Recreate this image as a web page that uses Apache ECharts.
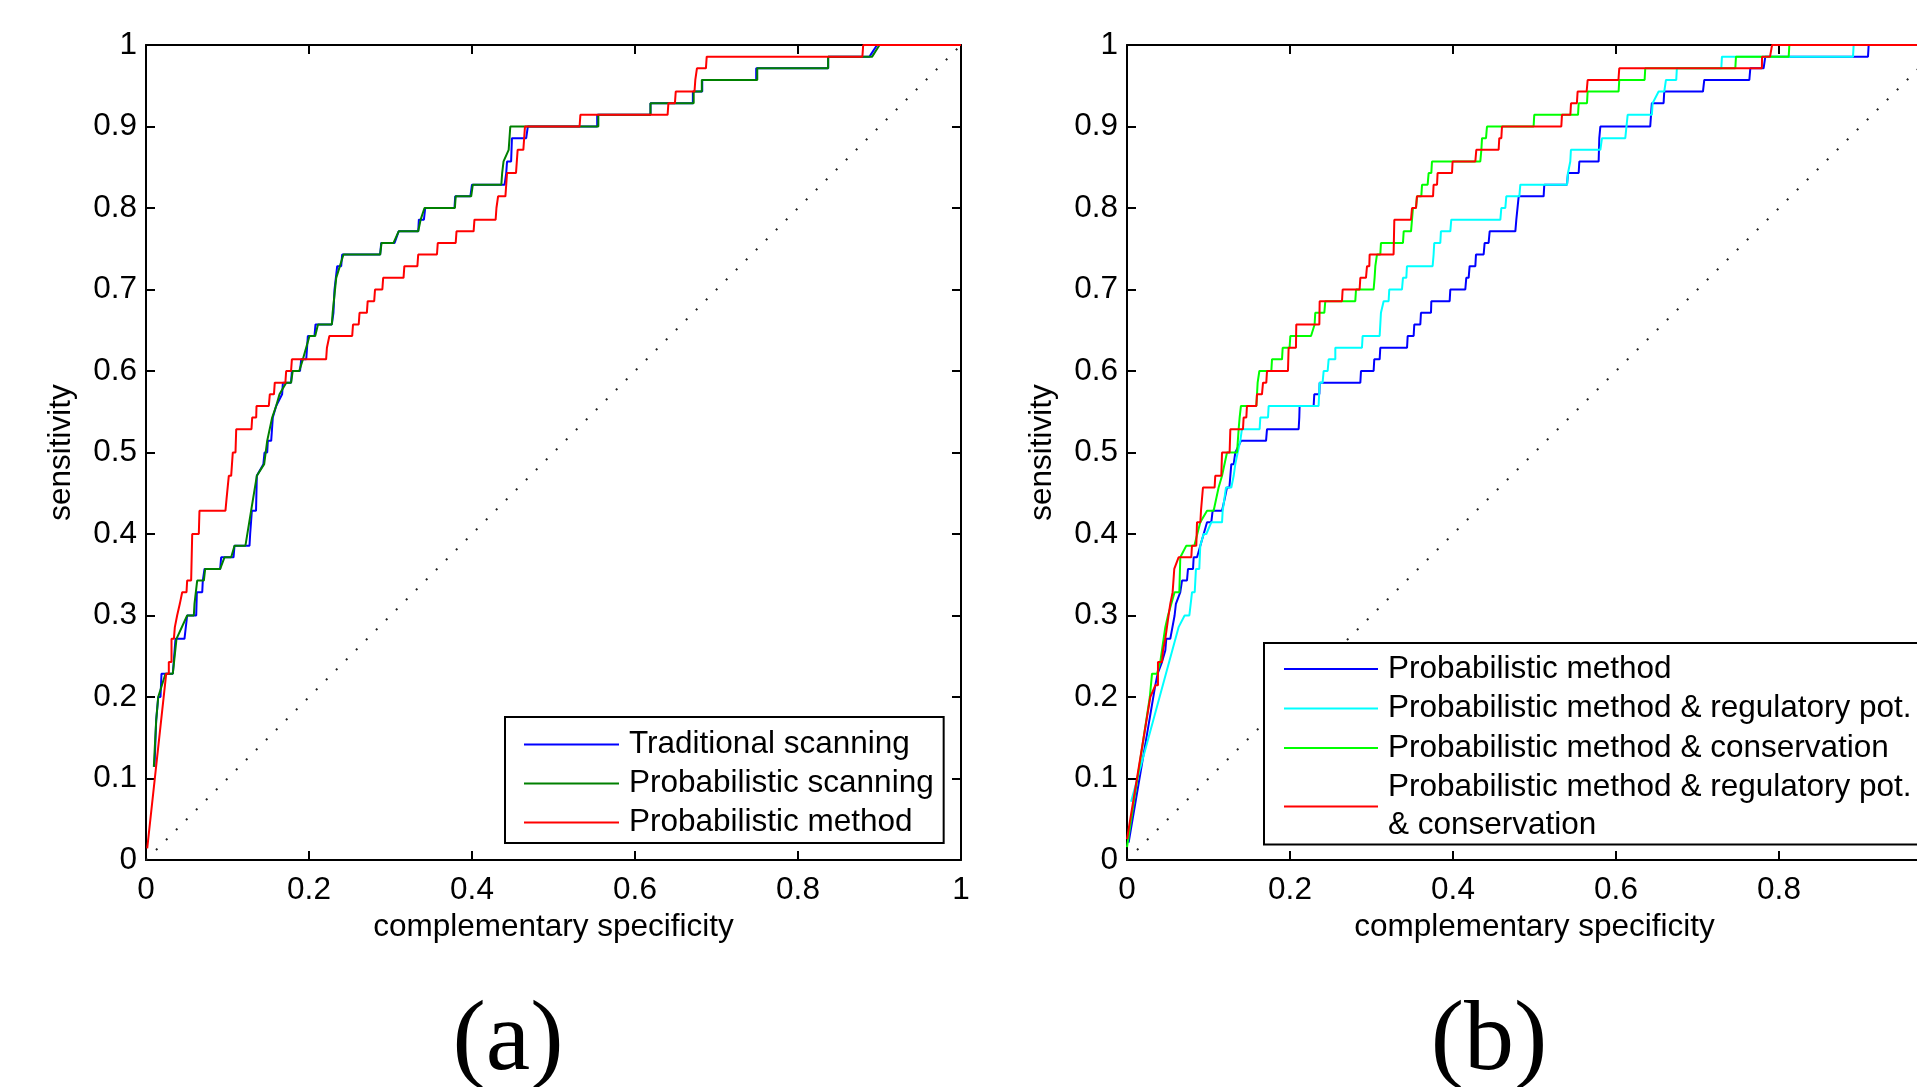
<!DOCTYPE html>
<html>
<head>
<meta charset="utf-8">
<title>ROC curves</title>
<script src="https://cdn.jsdelivr.net/npm/echarts@6/dist/echarts.min.js"></script>
<style>
  html, body { margin: 0; padding: 0; background: #fff; }
  #chart { width: 1917px; height: 1087px; }
</style>
</head>
<body>
<div id="chart"></div>
<script>
// tick values
const xTicks = [0, 0.2, 0.4, 0.6, 0.8, 1];
const yTicks = [0, 0.1, 0.2, 0.3, 0.4, 0.5, 0.6, 0.7, 0.8, 0.9, 1];

// chance line
const diagonal = [[0, 0], [1, 1]];

// (a) [complementary specificity, sensitivity]
const aTraditional = [[0.0104,0.1143],[0.0125,0.1714],[0.015,0.2],[0.0178,0.2],[0.019,0.2286],[0.0329,0.2286],[0.0362,0.2714],[0.0472,0.2714],[0.0505,0.3],[0.0616,0.3],[0.0624,0.3286],[0.069,0.3286],[0.0697,0.3429],[0.0718,0.3571],[0.091,0.3571],[0.0922,0.3714],[0.1074,0.3714],[0.1086,0.3857],[0.127,0.3857],[0.1278,0.4],[0.1299,0.4286],[0.135,0.4286],[0.136,0.4714],[0.144,0.4857],[0.1454,0.5],[0.1487,0.5],[0.1495,0.5143],[0.1536,0.5143],[0.1556,0.5429],[0.1597,0.5571],[0.167,0.5714],[0.168,0.5857],[0.178,0.5857],[0.179,0.6],[0.189,0.6],[0.1904,0.6143],[0.1966,0.6143],[0.1986,0.6429],[0.2067,0.6429],[0.208,0.6571],[0.228,0.6571],[0.23,0.6714],[0.2313,0.7],[0.2346,0.7286],[0.2395,0.7286],[0.2407,0.7429],[0.2873,0.7429],[0.2886,0.7571],[0.305,0.7571],[0.31,0.7714],[0.334,0.7714],[0.3348,0.7857],[0.341,0.7857],[0.3426,0.8],[0.3785,0.8],[0.3794,0.8143],[0.398,0.8143],[0.4,0.8286],[0.44,0.8286],[0.442,0.8429],[0.443,0.8571],[0.448,0.8571],[0.449,0.8857],[0.4665,0.8857],[0.4685,0.9],[0.5536,0.9],[0.5536,0.9143],[0.619,0.9143],[0.619,0.9286],[0.671,0.9286],[0.671,0.9429],[0.6825,0.9429],[0.6825,0.9571],[0.7487,0.9571],[0.7487,0.9714],[0.837,0.9714],[0.837,0.9857],[0.8877,0.9857],[0.897,1],[1,1]];
const aProbScanning = [[0.0096,0.1143],[0.0125,0.1714],[0.015,0.2],[0.0239,0.2286],[0.0329,0.2286],[0.0374,0.2714],[0.0505,0.3],[0.0587,0.3],[0.0595,0.3143],[0.0628,0.3429],[0.071,0.3429],[0.0726,0.3571],[0.091,0.3571],[0.0963,0.3714],[0.1045,0.3714],[0.1086,0.3857],[0.122,0.3857],[0.129,0.4286],[0.136,0.4714],[0.145,0.4857],[0.1487,0.5143],[0.1548,0.5429],[0.1597,0.5571],[0.1638,0.5714],[0.172,0.5857],[0.178,0.5857],[0.18,0.6],[0.188,0.6],[0.1925,0.6143],[0.2006,0.6429],[0.2076,0.6429],[0.211,0.6571],[0.228,0.6571],[0.229,0.6714],[0.2334,0.7143],[0.2423,0.7429],[0.2873,0.7429],[0.289,0.7571],[0.3037,0.7571],[0.31,0.7714],[0.334,0.7714],[0.337,0.7857],[0.3417,0.8],[0.379,0.8],[0.38,0.8143],[0.399,0.8143],[0.401,0.8286],[0.436,0.8286],[0.437,0.8429],[0.4387,0.8571],[0.445,0.8714],[0.447,0.9],[0.555,0.9],[0.555,0.9143],[0.619,0.9143],[0.619,0.9286],[0.672,0.9286],[0.672,0.9429],[0.682,0.9429],[0.682,0.9571],[0.75,0.9571],[0.75,0.9714],[0.837,0.9714],[0.837,0.9857],[0.891,0.9857],[0.9,1],[1,1]];
const aProbMethod = [[0.0015,0.0143],[0.0248,0.2286],[0.028,0.2286],[0.028,0.2429],[0.0313,0.2429],[0.0313,0.2714],[0.0342,0.2714],[0.0354,0.2857],[0.0374,0.2857],[0.0382,0.3],[0.0403,0.3],[0.0415,0.3143],[0.0436,0.3143],[0.0444,0.3286],[0.0497,0.3286],[0.0505,0.3429],[0.0554,0.3429],[0.0567,0.4],[0.0648,0.4],[0.0656,0.4286],[0.0975,0.4286],[0.0988,0.4429],[0.1004,0.4429],[0.1016,0.4714],[0.1045,0.4714],[0.1065,0.5],[0.1098,0.5],[0.1107,0.5286],[0.1294,0.5286],[0.1303,0.5429],[0.1352,0.5429],[0.1356,0.5571],[0.1507,0.5571],[0.1519,0.5714],[0.157,0.5714],[0.158,0.5857],[0.171,0.5857],[0.172,0.6],[0.178,0.6],[0.179,0.6143],[0.221,0.6143],[0.222,0.6286],[0.224,0.6286],[0.225,0.6429],[0.253,0.6429],[0.254,0.6571],[0.261,0.6571],[0.262,0.6714],[0.271,0.6714],[0.272,0.6857],[0.28,0.6857],[0.281,0.7],[0.29,0.7],[0.291,0.7143],[0.316,0.7143],[0.317,0.7286],[0.333,0.7286],[0.334,0.7429],[0.357,0.7429],[0.358,0.7571],[0.38,0.7571],[0.381,0.7714],[0.402,0.7714],[0.403,0.7857],[0.429,0.7857],[0.43,0.8],[0.431,0.8],[0.432,0.8143],[0.441,0.8143],[0.443,0.8429],[0.454,0.8429],[0.456,0.8714],[0.463,0.8714],[0.465,0.9],[0.532,0.9],[0.533,0.9143],[0.64,0.9143],[0.641,0.9286],[0.649,0.9286],[0.65,0.9429],[0.673,0.9429],[0.674,0.9571],[0.675,0.9571],[0.676,0.9714],[0.687,0.9714],[0.688,0.9857],[0.879,0.9857],[0.88,1],[1,1]];

// (b)
const bProbMethod = [[0.002,0.0214],[0.0347,0.2143],[0.0376,0.2286],[0.0429,0.2429],[0.047,0.2571],[0.0482,0.2714],[0.0531,0.2714],[0.0584,0.3],[0.06,0.3143],[0.0654,0.3286],[0.0675,0.3429],[0.0736,0.3429],[0.0748,0.3571],[0.081,0.3571],[0.0818,0.3714],[0.0859,0.3714],[0.0982,0.4143],[0.1034,0.4143],[0.1051,0.4286],[0.1166,0.4286],[0.1198,0.4429],[0.1219,0.4429],[0.1227,0.4571],[0.1256,0.4571],[0.128,0.4857],[0.1309,0.4857],[0.1329,0.5],[0.1341,0.5],[0.1399,0.5143],[0.1706,0.5143],[0.1718,0.5286],[0.2106,0.5286],[0.2114,0.5429],[0.2118,0.5571],[0.229,0.5571],[0.2298,0.5714],[0.236,0.5714],[0.2364,0.5857],[0.2863,0.5857],[0.2871,0.6],[0.3026,0.6],[0.3034,0.6143],[0.31,0.6143],[0.3108,0.6286],[0.3436,0.6286],[0.3444,0.6429],[0.3517,0.6429],[0.3525,0.6571],[0.3599,0.6571],[0.3607,0.6714],[0.373,0.6714],[0.3734,0.6857],[0.3959,0.6857],[0.3967,0.7],[0.4151,0.7],[0.4163,0.7143],[0.4192,0.7143],[0.4204,0.7286],[0.4274,0.7286],[0.4282,0.7429],[0.4376,0.7429],[0.4388,0.7571],[0.4437,0.7571],[0.445,0.7714],[0.4765,0.7714],[0.4777,0.7857],[0.4793,0.7857],[0.4806,0.8143],[0.5112,0.8143],[0.512,0.8286],[0.5399,0.8286],[0.5411,0.8429],[0.5542,0.8429],[0.555,0.8571],[0.5787,0.8571],[0.5795,0.8857],[0.5808,0.9],[0.642,0.9],[0.644,0.9286],[0.6584,0.9286],[0.6592,0.9429],[0.7067,0.9429],[0.7083,0.9571],[0.7636,0.9571],[0.7648,0.9714],[0.7811,0.9714],[0.7832,0.9857],[0.9092,0.9857],[0.91,1],[1,1]];
const bRegPot = [[0.005,0.0714],[0.0633,0.2857],[0.0707,0.3],[0.0765,0.3],[0.0798,0.3286],[0.0831,0.3286],[0.0846,0.3571],[0.0887,0.3571],[0.0899,0.3857],[0.094,0.4],[0.0973,0.4],[0.1034,0.4143],[0.1166,0.4143],[0.1174,0.4286],[0.1215,0.4571],[0.128,0.4571],[0.1309,0.4714],[0.1329,0.4857],[0.1358,0.5],[0.139,0.5143],[0.141,0.5286],[0.1627,0.5286],[0.1636,0.5429],[0.173,0.5429],[0.1738,0.5571],[0.2351,0.5571],[0.2364,0.5857],[0.24,0.5857],[0.2413,0.6],[0.2462,0.6],[0.2474,0.6143],[0.2556,0.6143],[0.2556,0.6286],[0.2883,0.6286],[0.2891,0.6429],[0.31,0.6429],[0.3116,0.6714],[0.3149,0.6857],[0.321,0.6857],[0.3218,0.7],[0.3374,0.7],[0.3386,0.7143],[0.3427,0.7143],[0.3435,0.7286],[0.375,0.7286],[0.3762,0.7429],[0.377,0.7571],[0.3844,0.7571],[0.3852,0.7714],[0.3967,0.7714],[0.3979,0.7857],[0.4581,0.7857],[0.4593,0.8],[0.4642,0.8],[0.4654,0.8143],[0.4814,0.8143],[0.4826,0.8286],[0.5399,0.8286],[0.5411,0.8429],[0.5439,0.8571],[0.5447,0.8714],[0.5808,0.8714],[0.5828,0.8857],[0.6114,0.8857],[0.6143,0.9143],[0.644,0.9143],[0.6449,0.9286],[0.6523,0.9429],[0.6592,0.9429],[0.6613,0.9571],[0.6739,0.9571],[0.6747,0.9714],[0.7292,0.9714],[0.73,0.9857],[0.8908,0.9857],[0.8916,1],[1,1]];
const bConservation = [[0,0.0157],[0.028,0.2],[0.0307,0.2286],[0.0368,0.2286],[0.0408,0.2429],[0.042,0.2429],[0.0449,0.2714],[0.047,0.2857],[0.0503,0.3],[0.0584,0.3286],[0.0642,0.3286],[0.0654,0.3714],[0.0728,0.3857],[0.0826,0.3857],[0.0899,0.4143],[0.0982,0.4286],[0.1063,0.4286],[0.1124,0.4571],[0.1166,0.4714],[0.1227,0.5],[0.135,0.5],[0.137,0.5286],[0.1382,0.5429],[0.1398,0.5571],[0.1587,0.5571],[0.1603,0.5857],[0.1624,0.6],[0.1771,0.6],[0.1779,0.6143],[0.1902,0.6143],[0.191,0.6286],[0.1995,0.6286],[0.2004,0.6429],[0.2258,0.6429],[0.2302,0.6571],[0.231,0.6714],[0.2421,0.6714],[0.2433,0.6857],[0.2801,0.6857],[0.281,0.7],[0.3026,0.7],[0.3038,0.7143],[0.3047,0.7286],[0.3067,0.7429],[0.3108,0.7429],[0.3116,0.7571],[0.3386,0.7571],[0.3395,0.7714],[0.3485,0.7714],[0.3497,0.7857],[0.3509,0.8],[0.3546,0.8],[0.3558,0.8143],[0.3611,0.8143],[0.362,0.8286],[0.3689,0.8286],[0.3701,0.8429],[0.3734,0.8429],[0.3742,0.8571],[0.4335,0.8571],[0.4348,0.8714],[0.4356,0.8857],[0.4405,0.8857],[0.4417,0.9],[0.4989,0.9],[0.4997,0.9143],[0.5534,0.9143],[0.5542,0.9286],[0.5644,0.9286],[0.5652,0.9429],[0.6032,0.9429],[0.604,0.9571],[0.6351,0.9571],[0.6359,0.9714],[0.7464,0.9714],[0.7472,0.9857],[0.8119,0.9857],[0.8127,1],[1,1]];
const bRegPotCons = [[0,0.0257],[0.0286,0.2],[0.0347,0.2143],[0.038,0.2143],[0.038,0.2429],[0.0429,0.2429],[0.0442,0.2571],[0.047,0.2714],[0.049,0.2857],[0.051,0.3],[0.0531,0.3143],[0.056,0.3286],[0.058,0.3571],[0.0633,0.3714],[0.0789,0.3714],[0.0797,0.3857],[0.085,0.3857],[0.0859,0.4143],[0.09,0.4143],[0.0908,0.4286],[0.0932,0.4571],[0.1075,0.4571],[0.1083,0.4714],[0.1157,0.4714],[0.1166,0.5],[0.1259,0.5],[0.1268,0.5286],[0.1423,0.5286],[0.1431,0.5429],[0.1464,0.5429],[0.1472,0.5571],[0.1587,0.5571],[0.1595,0.5714],[0.1656,0.5714],[0.1669,0.5857],[0.1709,0.5857],[0.1718,0.6],[0.1975,0.6],[0.1983,0.6286],[0.2073,0.6286],[0.2077,0.6571],[0.236,0.6571],[0.2364,0.6857],[0.2638,0.6857],[0.2646,0.7],[0.2854,0.7],[0.2863,0.7143],[0.2932,0.7143],[0.2945,0.7286],[0.2973,0.7286],[0.2977,0.7429],[0.3271,0.7429],[0.328,0.7857],[0.3485,0.7857],[0.3497,0.8],[0.3546,0.8],[0.3558,0.8143],[0.3755,0.8143],[0.3762,0.8286],[0.3804,0.8286],[0.3811,0.8429],[0.3988,0.8429],[0.3995,0.8571],[0.4274,0.8571],[0.4286,0.8714],[0.456,0.8714],[0.4568,0.8857],[0.4593,0.8857],[0.4601,0.9],[0.5329,0.9],[0.5337,0.9143],[0.544,0.9143],[0.5448,0.9286],[0.552,0.9286],[0.5529,0.9429],[0.564,0.9429],[0.5652,0.9571],[0.603,0.9571],[0.604,0.9714],[0.779,0.9714],[0.7792,0.9857],[0.789,0.9857],[0.7915,1],[1,1]];

// legend texts (series ids -> shown label)
const labels = {
  aTrad: "Traditional scanning",
  aScan: "Probabilistic scanning",
  aProb: "Probabilistic method",
  bProb: "Probabilistic method",
  bReg: "Probabilistic method & regulatory pot.",
  bCons: "Probabilistic method & conservation",
  bRegCons: "Probabilistic method & regulatory pot.\n& conservation",
};

const FONT = "Liberation Sans";
const FS = 31.5;
const black = "#000";

let chart = echarts.init(document.getElementById("chart"), null, { renderer: "canvas" });

function xAxes(grid) {
  let base = {
    type: "value",
    gridIndex: grid,
    min: xTicks[0],
    max: xTicks[xTicks.length - 1],
    interval: xTicks[1] - xTicks[0],
    splitLine: { show: false },
    axisLine: { onZero: false, lineStyle: { color: black, width: 2 } },
    axisTick: { inside: true, length: 9, lineStyle: { color: black, width: 2 } },
  };
  return [
    Object.assign({}, base, {
      position: "bottom",
      axisLabel: { margin: 14, color: black, fontSize: FS, fontFamily: FONT },
      name: "complementary specificity",
      nameLocation: "middle",
      nameGap: 51,
      nameTextStyle: { color: black, fontSize: FS, fontFamily: FONT },
    }),
    Object.assign({}, base, { position: "top", axisLabel: { show: false } }),
  ];
}

function yAxes(grid) {
  let base = {
    type: "value",
    gridIndex: grid,
    min: yTicks[0],
    max: yTicks[yTicks.length - 1],
    interval: 0.1,
    splitLine: { show: false },
    axisLine: { onZero: false, lineStyle: { color: black, width: 2 } },
    axisTick: { inside: true, length: 9, lineStyle: { color: black, width: 2 } },
  };
  return [
    Object.assign({}, base, {
      position: "left",
      axisLabel: { margin: 9, color: black, fontSize: FS, fontFamily: FONT },
      name: "sensitivity",
      nameLocation: "middle",
      nameGap: 69,
      nameTextStyle: { color: black, fontSize: FS, fontFamily: FONT },
    }),
    Object.assign({}, base, { position: "right", axisLabel: { show: false } }),
  ];
}

function curve(id, data, color, grid) {
  return {
    name: id,
    type: "line",
    xAxisIndex: grid * 2,
    yAxisIndex: grid * 2,
    data: data,
    showSymbol: false,
    symbol: "none",
    silent: true,
    animation: false,
    lineStyle: { color: color, width: 2 },
    itemStyle: { color: color },
    z: 3,
  };
}

function chance(grid) {
  return {
    name: "chance" + grid,
    type: "line",
    xAxisIndex: grid * 2,
    yAxisIndex: grid * 2,
    data: diagonal,
    showSymbol: false,
    symbol: "none",
    silent: true,
    animation: false,
    lineStyle: { color: "#222", width: 2, type: [2, 12.14] },
    z: 2,
  };
}

function legendBox(ids, left, top, itemWidth, lineHeight, gap, padding) {
  return {
    orient: "vertical",
    left: left,
    top: top,
    data: ids,
    icon: "rect",
    itemWidth: itemWidth,
    itemHeight: 2,
    itemGap: gap,
    padding: padding,
    borderColor: black,
    borderWidth: 2,
    backgroundColor: "#fff",
    selectedMode: false,
    formatter: (name) => labels[name],
    textStyle: {
      color: black,
      fontSize: FS,
      fontFamily: FONT,
      lineHeight: lineHeight,
      padding: [0, 0, 0, 5],
    },
  };
}

let option = {
  animation: false,
  backgroundColor: "#fff",
  textStyle: { fontFamily: FONT },
  grid: [
    { left: 146, top: 45, width: 815, height: 815, containLabel: false, outerBoundsMode: "none" },
    { left: 1127, top: 45, width: 815, height: 815, containLabel: false, outerBoundsMode: "none" },
  ],
  xAxis: xAxes(0).concat(xAxes(1)),
  yAxis: yAxes(0).concat(yAxes(1)),
  legend: [
    legendBox(["aTrad", "aScan", "aProb"], 505, 717, 95, 39, 0, [8, 10, 1, 19]),
    legendBox(["bProb", "bReg", "bCons", "bRegCons"], 1264, 643, 94, 38, 1.5, [7, 10, 0, 20]),
  ],
  series: [
    chance(0),
    curve("aTrad", aTraditional, "#0000ff", 0),
    curve("aScan", aProbScanning, "#008000", 0),
    curve("aProb", aProbMethod, "#ff0000", 0),
    chance(1),
    curve("bProb", bProbMethod, "#0000ff", 1),
    curve("bReg", bRegPot, "#00ffff", 1),
    curve("bCons", bConservation, "#00ff00", 1),
    curve("bRegCons", bRegPotCons, "#ff0000", 1),
  ],
  graphic: [
    {
      type: "text",
      x: 508,
      y: 1043,
      style: {
        text: "(a)",
        fill: black,
        font: '100px "Liberation Serif"',
        align: "center",
        verticalAlign: "middle",
        textAlign: "center",
        textVerticalAlign: "middle",
      },
    },
    {
      type: "text",
      x: 1489,
      y: 1043,
      style: {
        text: "(b)",
        fill: black,
        font: '100px "Liberation Serif"',
        align: "center",
        verticalAlign: "middle",
        textAlign: "center",
        textVerticalAlign: "middle",
      },
    },
  ],
};

option && chart.setOption(option);
</script>
</body>
</html>
